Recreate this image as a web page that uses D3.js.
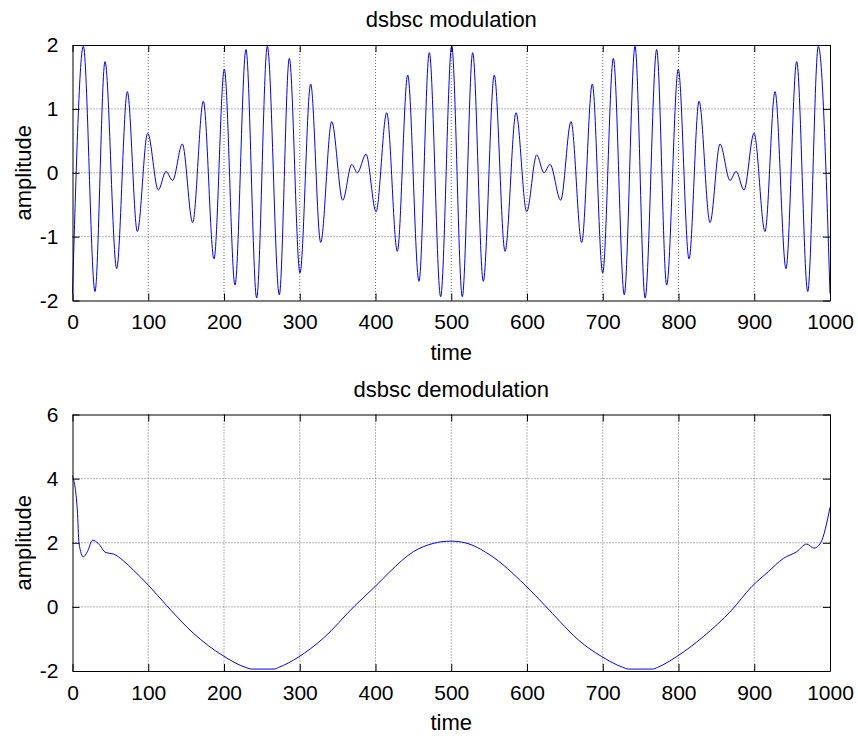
<!DOCTYPE html>
<html>
<head>
<meta charset="utf-8">
<script src="https://cdn.jsdelivr.net/npm/d3@7"></script>
<style>
  html, body { margin: 0; padding: 0; background: #fff; }
  svg { display: block; }
  text { font-family: "Liberation Sans", Arial, sans-serif; fill: #000; }
</style>
</head>
<body>
<svg id="chart" width="858" height="736"></svg>
<script>
// ---- Data ----
const xTicks = [0, 100, 200, 300, 400, 500, 600, 700, 800, 900, 1000];
const modYTicks = [-2, -1, 0, 1, 2];
const demodYTicks = [-2, 0, 2, 4, 6];

// dsbsc modulation: extrema of the modulated carrier
const modTime = [0, 14.3, 29.7, 42.9, 58.3, 72.4, 85.6, 99.2, 113.3, 123.4,
  132.2, 145, 158.6, 172.7, 186.8, 200.4, 214.5, 229, 243.1, 257.2,
  273, 286.2, 300.3, 314.4, 327.6, 342.2, 356.7, 368.6, 376, 387.5,
  400.7, 414.8, 428.8, 442.5, 457.4, 471, 486, 500.6, 514.6, 528.3,
  542.3, 556.8, 571, 585.5, 599.6, 612.8, 622.4, 630.4, 644.5, 658.1,
  672.2, 686.2, 699.9, 714, 728.4, 742.6, 755.9, 771.2, 784.4, 799.7,
  813.9, 827.1, 841.6, 854.8, 868, 876, 886.5, 899.7, 914.2, 927.4,
  941.9, 956, 970.6, 984.6, 1000];
const modAmp = [-1.89, 1.98, -1.86, 1.74, -1.50, 1.27, -0.92, 0.62, -0.27, 0.02,
  -0.12, 0.45, -0.78, 1.12, -1.35, 1.62, -1.76, 1.93, -1.96, 1.98,
  -1.91, 1.79, -1.57, 1.39, -1.09, 0.80, -0.43, 0.13, 0.00, 0.29,
  -0.61, 0.94, -1.23, 1.53, -1.70, 1.88, -1.94, 1.98, -1.94, 1.88,
  -1.70, 1.53, -1.23, 0.94, -0.61, 0.28, 0.00, 0.13, -0.43, 0.80,
  -1.09, 1.39, -1.57, 1.79, -1.91, 1.98, -1.96, 1.93, -1.76, 1.62,
  -1.35, 1.12, -0.78, 0.45, -0.12, 0.02, -0.27, 0.62, -0.92, 1.27,
  -1.50, 1.74, -1.86, 1.98, -1.89];

// dsbsc demodulation: recovered message
const demodTime = [0, 6.4, 8.6, 14.3, 19.6, 26.6, 34, 44.2, 53.9, 67.1,
  80.3, 100, 124.3, 159.5, 199.1, 230, 236, 266, 272, 298,
  331, 372.9, 399.3, 419.1, 449.9, 476.3, 499.3, 518, 551, 597.4,
  623.8, 643.6, 667.7, 698.6, 726, 734, 766, 772, 797.6, 832.7,
  870.2, 896.6, 918.6, 938.4, 956, 969.2, 978.9, 987.7, 1000];
const demodAmp = [4.1, 3.02, 1.98, 1.56, 1.72, 2.08, 1.98, 1.69, 1.65, 1.44,
  1.15, 0.68, 0.04, -0.82, -1.53, -1.90, -1.94, -1.94, -1.89, -1.57,
  -0.98, 0.04, 0.63, 1.10, 1.72, 1.98, 2.05, 2.0, 1.62, 0.68,
  0.04, -0.46, -1.03, -1.55, -1.88, -1.94, -1.94, -1.89, -1.55, -0.93,
  -0.10, 0.63, 1.10, 1.51, 1.72, 1.96, 1.83, 2.0, 3.1];

// ---- Drawing ----
const svg = d3.select("#chart");
const FS = 21;
const tickLen = 7;
const fmt = d => String(d); // plain hyphen-minus like the reference

function panel(cfg) {
  const { left, right, top, bottom, yDomain, yTicks, times, values, title } = cfg;
  const x = d3.scaleLinear().domain([0, 1000]).range([left, right]);
  const y = d3.scaleLinear().domain(yDomain).range([bottom, top]);
  const g = svg.append("g");

  // grid (dotted)
  g.append("g").selectAll("line").data(xTicks.slice(1, -1)).join("line")
    .attr("x1", d => x(d)).attr("x2", d => x(d))
    .attr("y1", top).attr("y2", bottom)
    .attr("stroke", "#444").attr("stroke-width", 0.8).attr("stroke-dasharray", "1,2");
  g.append("g").selectAll("line").data(yTicks.slice(1, -1)).join("line")
    .attr("x1", left).attr("x2", right)
    .attr("y1", d => y(d)).attr("y2", d => y(d))
    .attr("stroke", "#444").attr("stroke-width", 0.8).attr("stroke-dasharray", "1,2");

  // data line
  const line = d3.line().x((d, i) => x(times[i])).y(d => y(d)).curve(d3.curveMonotoneX);
  g.append("path").datum(values).attr("d", line)
    .attr("fill", "none").attr("stroke", "#0000ff").attr("stroke-width", 1);

  // axes with inward ticks on all sides
  const axB = d3.axisBottom(x).tickValues(xTicks).tickSizeInner(-tickLen).tickSizeOuter(0).tickPadding(14).tickFormat(fmt);
  const axT = d3.axisTop(x).tickValues(xTicks).tickSizeInner(-tickLen).tickSizeOuter(0).tickFormat("");
  const axL = d3.axisLeft(y).tickValues(yTicks).tickSizeInner(-tickLen).tickSizeOuter(0).tickPadding(14).tickFormat(fmt);
  const axR = d3.axisRight(y).tickValues(yTicks).tickSizeInner(-tickLen).tickSizeOuter(0).tickFormat("");

  const styleAxis = sel => {
    sel.select(".domain").attr("stroke", "#000").attr("stroke-width", 1);
    sel.selectAll(".tick line").attr("stroke", "#000").attr("stroke-width", 1);
    sel.selectAll(".tick text").attr("font-size", FS).attr("font-family", "Liberation Sans, Arial, sans-serif").attr("fill", "#000");
  };
  g.append("g").attr("transform", `translate(0,${bottom})`).call(axB).call(styleAxis);
  g.append("g").attr("transform", `translate(0,${top})`).call(axT).call(styleAxis);
  g.append("g").attr("transform", `translate(${left},0)`).call(axL).call(styleAxis);
  g.append("g").attr("transform", `translate(${right},0)`).call(axR).call(styleAxis);

  // texts
  g.append("text").attr("x", (left + right) / 2).attr("y", top - 18)
    .attr("text-anchor", "middle").attr("font-size", FS + 1).text(title);
  g.append("text").attr("x", (left + right) / 2).attr("y", bottom + 59)
    .attr("text-anchor", "middle").attr("font-size", FS + 1).text("time");
  g.append("text").attr("transform", `translate(31,${(top + bottom) / 2}) rotate(-90)`)
    .attr("text-anchor", "middle").attr("font-size", FS + 1).text("amplitude");
}

panel({ left: 72.5, right: 830, top: 45, bottom: 300.5,
  yDomain: [-2, 2], yTicks: modYTicks, times: modTime, values: modAmp,
  title: "dsbsc modulation" });
panel({ left: 72.5, right: 830, top: 414.5, bottom: 671,
  yDomain: [-2, 6], yTicks: demodYTicks, times: demodTime, values: demodAmp,
  title: "dsbsc demodulation" });
</script>
</body>
</html>
